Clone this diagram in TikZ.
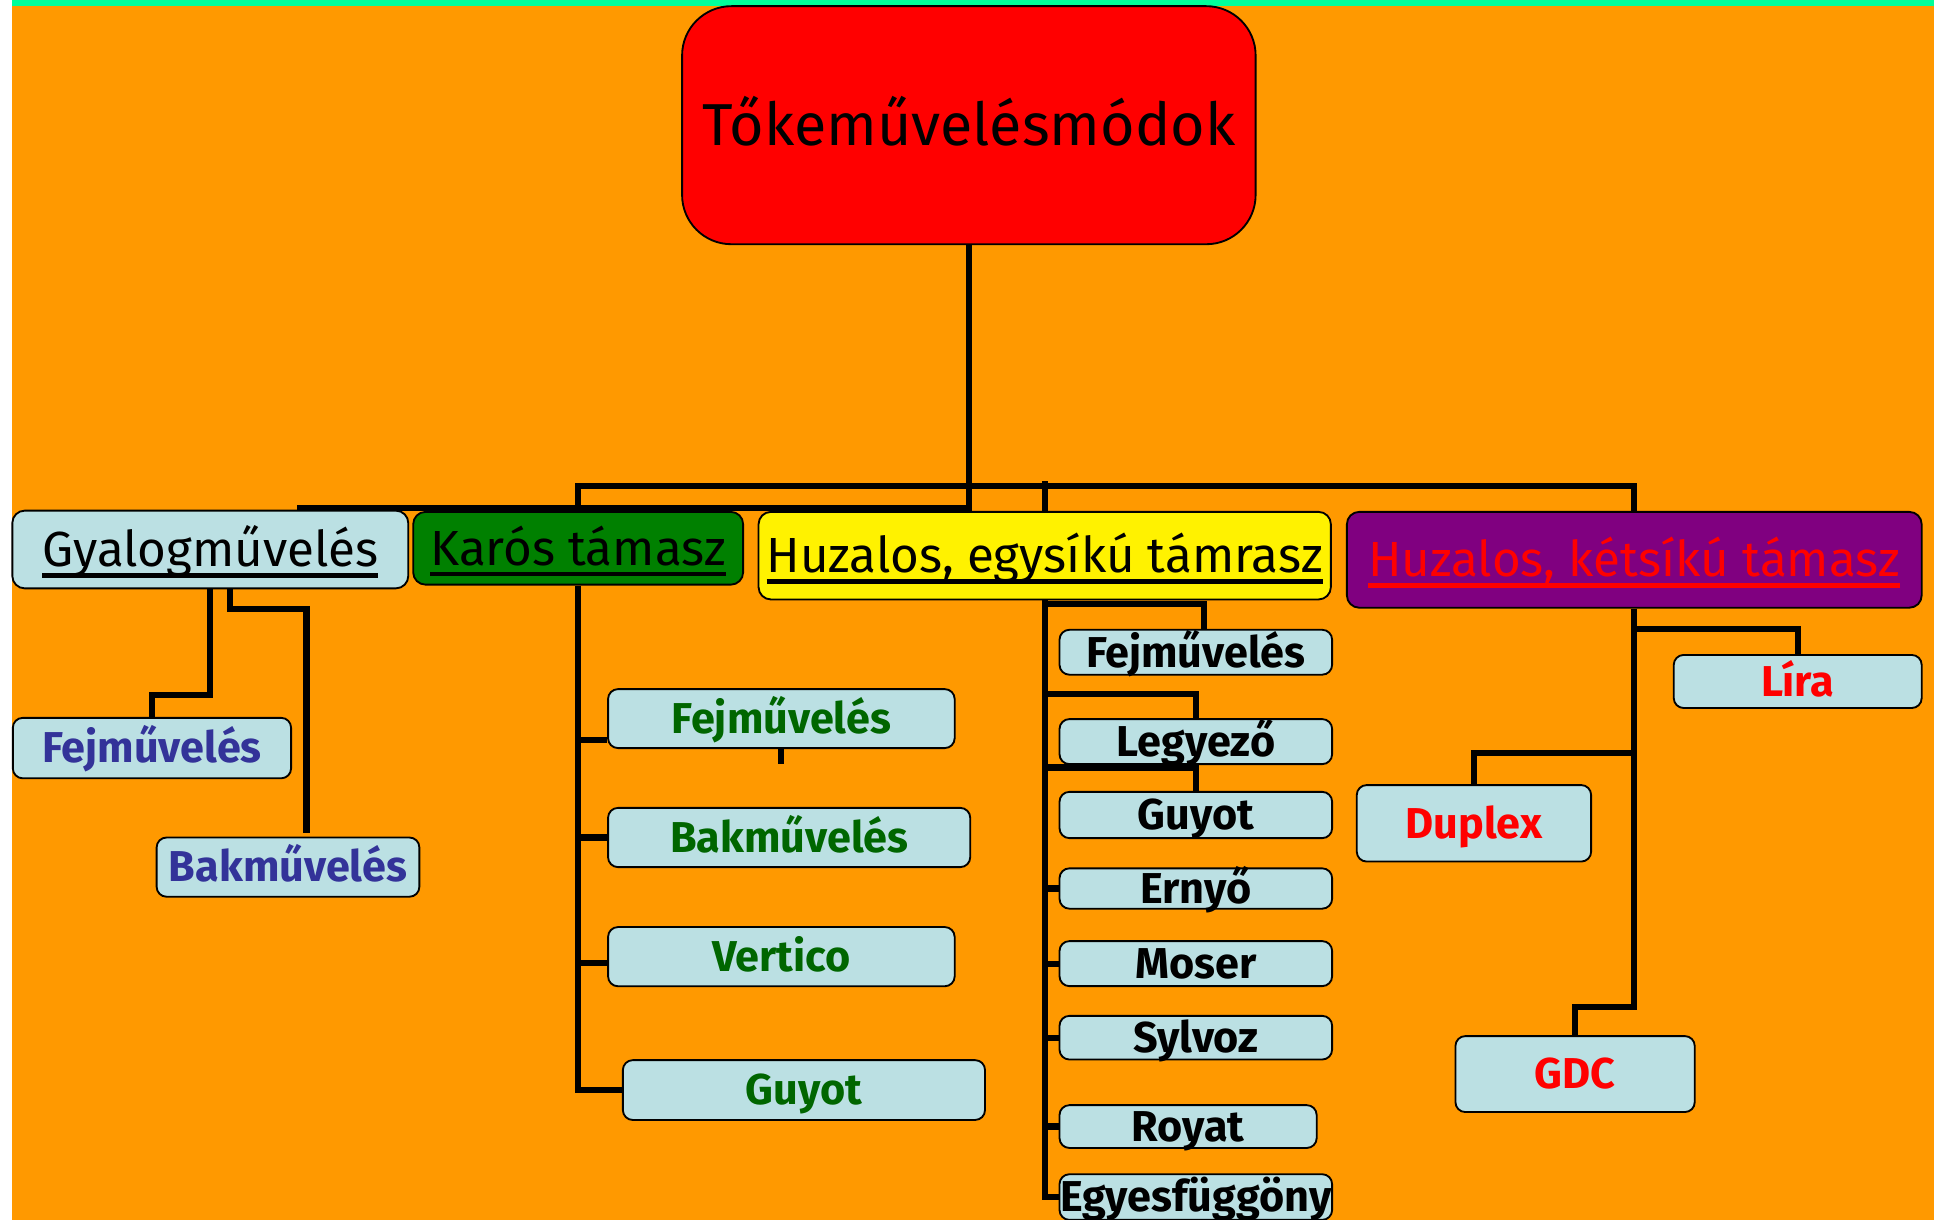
\documentclass[tikz,border=0pt]{standalone}
\usepackage{fontspec}
\setmainfont{Fira Sans}
\usepackage{tikz}

\definecolor{bgorange}{HTML}{FF9900}
\definecolor{topgreen}{HTML}{00FF99}
\definecolor{paleblue}{HTML}{BBE0E3}
\definecolor{karosgreen}{HTML}{008000}
\definecolor{leafgreen}{HTML}{006600}
\definecolor{navyblue}{HTML}{333399}
\definecolor{grapepurple}{HTML}{800080}

\newsavebox\ulbox
\newcommand{\thickul}[1]{\sbox\ulbox{#1}\rlap{\usebox\ulbox}\raisebox{-9pt}{\rule{\wd\ulbox}{3.6pt}}}

\begin{document}
\begin{tikzpicture}[x=1pt,y=-1pt,
  root node/.style={rectangle,rounded corners=40pt,draw,line width=1.5pt,fill=red,inner sep=0pt,
    font=\fontsize{48}{54}\selectfont,text height=33pt,text depth=0pt},
  main node/.style={rectangle,rounded corners=10pt,draw,line width=1.5pt,inner sep=0pt,
    font=\fontsize{40}{46}\selectfont,text height=27.5pt,text depth=0pt},
  sub node/.style={rectangle,rounded corners=8pt,draw,line width=1.5pt,fill=paleblue,inner sep=0pt,
    font=\bfseries\fontsize{35}{40}\selectfont,text height=24pt,text depth=0pt},
  egy node/.style={sub node,minimum width=221pt},
  wire/.style={line width=5pt}]

  \fill[white] (0,0) rectangle (1568,989);
  \fill[bgorange] (10,0) rectangle (1568,989);
  \fill[topgreen] (10,0) rectangle (1568,5);
  \useasboundingbox (0,0) rectangle (1568,989);

  \node[root node,minimum width=465pt,minimum height=193pt] (0) at (785.5,101.5) {Tőkeművelésmódok};

  \node[main node,fill=paleblue,minimum width=321pt,minimum height=63pt] (1) at (170.5,445.5) {\thickul{Gyalogművelés}};
  \node[main node,fill=karosgreen,minimum width=267.5pt,minimum height=59pt] (2) at (468.75,444.5) {\thickul{Karós támasz}};
  \node[main node,fill=yellow,minimum width=464pt,minimum height=71pt] (3) at (847,450.5) {\thickul{Huzalos, egysíkú támrasz}};
  \node[main node,fill=grapepurple,text=red,minimum width=466pt,minimum height=77.7pt] (4) at (1325,453.85) {\thickul{Huzalos, kétsíkú támasz}};

  \node[sub node,text=navyblue,minimum width=225.6pt,minimum height=49pt] (11) at (123.2,606.5) {Fejművelés};
  \node[sub node,text=navyblue,minimum width=213pt,minimum height=48pt] (12) at (233.5,703) {Bakművelés};

  \node[sub node,text=leafgreen,minimum width=281pt,minimum height=47.8pt] (21) at (633.5,582.6) {Fejművelés};
  \node[sub node,text=leafgreen,minimum width=293.6pt,minimum height=48pt] (22) at (639.8,679) {Bakművelés};
  \node[sub node,text=leafgreen,minimum width=281pt,minimum height=48pt] (23) at (633.5,775.6) {Vertico};
  \node[sub node,text=leafgreen,minimum width=293.6pt,minimum height=48.5pt] (24) at (651.8,883.75) {Guyot};

  \node[egy node,minimum height=36.4pt] (31) at (969.5,528.8) {Fejművelés};
  \node[egy node,minimum height=36.5pt] (32) at (969.5,601.25) {Legyező};
  \node[egy node,minimum height=37.5pt] (33) at (969.5,660.75) {Guyot};
  \node[egy node,minimum height=32.7pt] (34) at (969.5,720.35) {Ernyő};
  \node[egy node,minimum height=36.5pt] (35) at (969.5,781.25) {Moser};
  \node[egy node,minimum height=35.4pt] (36) at (969.5,841.3) {Sylvoz};
  \node[egy node,minimum width=208.5pt,minimum height=34.7pt] (37) at (963.25,913.35) {Royat};
  \node[egy node,minimum height=37pt] (38) at (969.5,970.5) {Egyesfüggöny};

  \node[sub node,text=red,minimum width=201pt,minimum height=43pt] (41) at (1457.5,552.5) {Líra};
  \node[sub node,text=red,minimum width=190pt,minimum height=62pt] (42) at (1195,667.5) {Duplex};
  \node[sub node,text=red,minimum width=194pt,minimum height=61.6pt] (43) at (1277,870.8) {GDC};

  \coordinate (1end) at (241,412);
  \coordinate (12end) at (248.5,675);

  \draw[wire] (0.south) |- (1end);
  \draw[wire] (2.north) -- ++(0,-20) -| (4.north);
  \draw[wire] (3.north) -- ++(0,-24);

  \draw[wire] (1.south) -- ++(0,86) -| (11.north);
  \draw[wire] ([xshift=16pt]1.south) -- ++(0,16) -| (12end);

  \draw[wire] (2.south) |- (24.west);
  \draw[wire] ([yshift=7.5pt]21.south west) -- ([yshift=7.5pt]21.south west -| 2.south);
  \draw[wire] (2.south |- 22.west) -- (22.west);
  \draw[wire] ([yshift=-5pt]23.west) -- ([yshift=-5pt]23.west -| 2.south);
  \draw[wire] (21.south) -- ++(0,12);

  \draw[wire] (3.south) |- (38.west);
  \draw[wire] (3.south |- 31.north) ++(0,-20) -| ([xshift=6.5pt]31.north);
  \draw[wire] (3.south |- 32.north) ++(0,-19.5) -| (32.north);
  \draw[wire] (3.south |- 33.north) ++(0,-19) -| (33.north);
  \foreach \n in {34,35,36,37}
    \draw[wire] (3.south |- \n.west) -- (\n.west);

  \draw[wire] (4.south) -- ++(0,323.3) -| (43.north);
  \draw[wire] (4.south |- 41.north) ++(0,-20) -| (41.north);
  \draw[wire] (4.south |- 42.north) ++(0,-25.5) -| (42.north);

\end{tikzpicture}
\end{document}
